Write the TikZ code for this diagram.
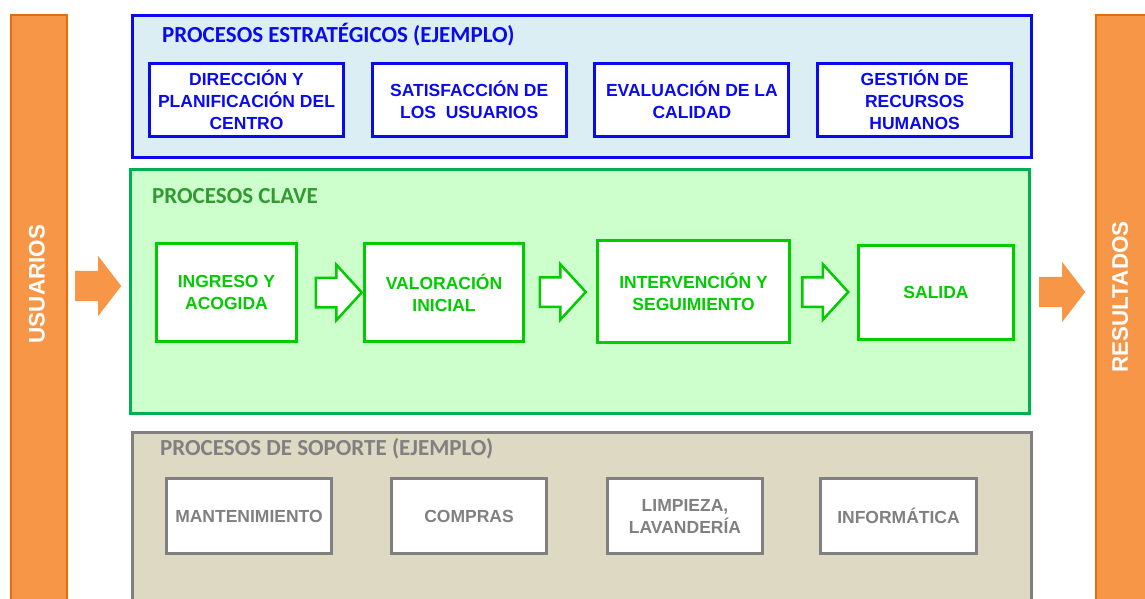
\documentclass[tikz,border=0pt]{standalone}
\usepackage{fontspec}
\setmainfont{Liberation Sans}
\newfontfamily\titlefont{Carlito}
\usetikzlibrary{positioning,calc,shapes.arrows}
\definecolor{azul}{RGB}{10,10,240}
\definecolor{celeste}{RGB}{218,238,243}
\definecolor{verdeborde}{RGB}{0,176,80}
\definecolor{verdefondo}{RGB}{204,255,204}
\definecolor{verdecaja}{RGB}{0,204,0}
\definecolor{verdetitulo}{RGB}{51,153,51}
\definecolor{grisborde}{RGB}{128,128,128}
\definecolor{grisfondo}{RGB}{221,217,195}
\definecolor{naranja}{RGB}{247,150,70}
\definecolor{naranjaborde}{RGB}{228,108,10}
\tikzset{%
  grupo/.style    = {shape=rectangle, line width=3pt, anchor=north west,%
                     minimum width=899pt, inner sep=0pt},%
  titulo/.style   = {anchor=west, inner sep=0pt,%
                     font=\titlefont\fontsize{23}{26}\selectfont\bfseries},%
  caja/.style     = {shape=rectangle, draw, fill=white, line width=3pt,%
                     align=center, inner sep=1pt,%
                     font=\fontsize{17.5}{22}\selectfont\bfseries},%
  estrat/.style   = {caja, draw=azul, text=azul, minimum width=194pt, minimum height=73pt},%
  clave/.style    = {caja, draw=verdecaja, text=verdecaja},%
  soporte/.style  = {caja, draw=grisborde, text=grisborde, minimum height=75pt},%
  hueca/.style    = {single arrow, draw=verdecaja, fill=white, line width=2.5pt,%
                     anchor=tail, inner xsep=0pt, inner ysep=13.5pt, minimum height=46pt,%
                     single arrow head extend=13pt, single arrow tip angle=95},%
  naranjaflecha/.style = {single arrow, fill=naranja, draw=none, anchor=tail,%
                     inner xsep=0pt, inner ysep=15pt, minimum height=46pt,%
                     single arrow head extend=15pt, single arrow tip angle=105},%
  barra/.style    = {shape=rectangle, fill=naranja, draw=naranjaborde, line width=2pt,%
                     anchor=north west, minimum width=56pt, minimum height=600pt},%
  bartexto/.style = {rotate=90, text=white, font=\fontsize{22.5}{26}\selectfont\bfseries}%
}
\begin{document}
\begin{tikzpicture}[x=1pt, y=-1pt]
  \useasboundingbox (0,0) rectangle (1145,599);

  % barras laterales
  \node[barra] (usuarios) at (10,14) {};
  \node[barra] (resultados) at (1095,14) {};
  \node[bartexto] (usutxt) at (37,284) {USUARIOS};
  \node[bartexto] (restxt) at (1120,297) {RESULTADOS};

  % grupos
  \node[grupo, draw=azul, fill=celeste, minimum height=141pt] (estrategicos) at (130.5,14.5) {};
  \node[grupo, draw=verdeborde, fill=verdefondo, minimum height=244pt] (claves) at (128.5,167.5) {};
  \node[grupo, draw=grisborde, fill=grisfondo, minimum height=190pt] (soportes) at (130.5,430.5) {};

  \node[titulo, text=azul] (tit1) at (162,35) {PROCESOS ESTRATÉGICOS (EJEMPLO)};
  \node[titulo, text=verdetitulo] (tit2) at (152,196) {PROCESOS CLAVE};
  \node[titulo, text=grisborde] (tit3) at (160,449) {PROCESOS DE SOPORTE (EJEMPLO)};

  % procesos estrategicos
  \node[estrat] (direccion) at (246.5,100) {DIRECCIÓN Y\\PLANIFICACIÓN DEL\\CENTRO};
  \node[estrat, right=25.7pt of direccion] (satisfaccion) {SATISFACCIÓN DE\\LOS\ \ USUARIOS};
  \node[estrat, right=25.7pt of satisfaccion] (evaluacion) {EVALUACIÓN DE LA\\CALIDAD};
  \node[estrat, right=25.7pt of evaluacion] (rrhh) {GESTIÓN DE\\RECURSOS\\HUMANOS};

  % procesos clave
  \node[clave, minimum width=140pt, minimum height=98pt] (ingreso) at (226.5,292.5) {INGRESO Y\\ACOGIDA};
  \node[clave, minimum width=159pt, minimum height=98pt] (valoracion) at (444,292.5) {VALORACIÓN\\INICIAL};
  \node[clave, minimum width=192pt, minimum height=102pt] (intervencion) at (693.5,291.5) {INTERVENCIÓN Y\\SEGUIMIENTO};
  \node[clave, minimum width=155pt, minimum height=94pt] (salida) at (936,292.5) {SALIDA};

  \node[hueca] (f1) at ($(ingreso.east)!0.5!(valoracion.west)+(-16,0)$) {};
  \node[hueca] (f2) at ($(valoracion.east)!0.5!(intervencion.west)+(-22,0)$) {};
  \node[hueca] (f3) at ($(intervencion.east)!0.5!(salida.west)+(-23,0)$) {};

  \node[naranjaflecha] (entrada) at (75,286) {};
  \node[naranjaflecha] (salidafl) at (1039,292) {};

  % procesos de soporte
  \node[soporte, minimum width=165pt] (mantenimiento) at (249,516) {MANTENIMIENTO};
  \node[soporte, minimum width=155pt] (compras) at (469,516) {COMPRAS};
  \node[soporte, minimum width=155pt] (limpieza) at (685,516) {LIMPIEZA,\\LAVANDERÍA};
  \node[soporte, minimum width=156pt] (informatica) at (898.5,516) {INFORMÁTICA};
\end{tikzpicture}
\end{document}
